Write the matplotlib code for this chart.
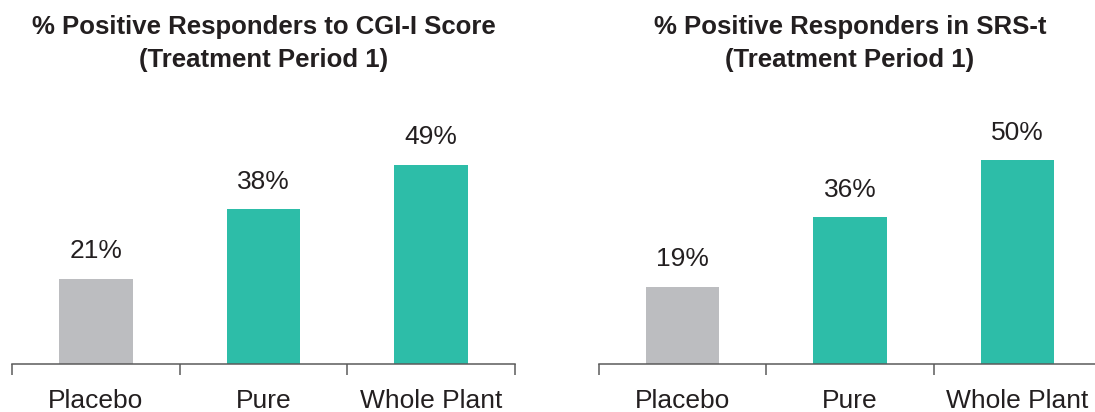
import numpy as np
import matplotlib; matplotlib.use("Agg"); import matplotlib.pyplot as plt
plt.rcParams['font.family'] = ['Liberation Sans', 'DejaVu Sans']

# ---- data ----
groups = ['Placebo', 'Pure', 'Whole Plant']
cgi_pct = [21, 38, 49]
srs_pct = [19, 36, 50]
titles = ['% Positive Responders to CGI-I Score\n(Treatment Period 1)',
          '% Positive Responders in SRS-t\n(Treatment Period 1)']
bar_colors = ['#bcbdc0', '#2dbda8', '#2dbda8']
TXT = '#231f20'; AX = '#5b5b5b'

W, H = 1095, 412
fig = plt.figure(figsize=(W/100, H/100), dpi=100)

# axes boxes in pixels: (left, right); baseline at y=364 from top
boxes = [(12, 515), (599, 1101)]
base_y, top_y = 364, 100
ppp = 4.07   # pixels per percent

for (x0, x1), vals, title in zip(boxes, [cgi_pct, srs_pct], titles):
    ax = fig.add_axes([x0/W, (H-base_y)/H, (x1-x0)/W, (base_y-top_y)/H])
    x = np.arange(len(groups))
    ax.bar(x, vals, width=0.44, color=bar_colors)
    ax.set_xlim(-0.5, len(groups)-0.5)
    ax.set_ylim(0, (base_y-top_y)/ppp)
    for xi, v in zip(x, vals):
        ax.annotate(f'{v}%', (xi, v), xytext=(0, 15), textcoords='offset points',
                    ha='center', va='baseline', fontsize=19, color=TXT)
    # boundary ticks (major, no label) + centered labels (minor)
    ax.set_xticks(np.arange(len(groups)+1) - 0.5)
    ax.set_xticklabels([])
    ax.set_xticks(x, minor=True)
    ax.set_xticklabels(groups, minor=True, fontsize=19, color=TXT)
    ax.tick_params(axis='x', which='major', length=8, width=1.1, color=AX, direction='out')
    ax.tick_params(axis='x', which='minor', length=0, pad=18)
    for s in ['top', 'right', 'left']:
        ax.spines[s].set_visible(False)
    ax.spines['bottom'].set_color(AX); ax.spines['bottom'].set_linewidth(1.1)
    ax.set_yticks([])
    # two title lines, baselines at 34 px and 67 px from the top
    for line, by in zip(title.split('\n'), [34, 67]):
        fig.text((x0+x1)/2/W, 1-by/H, line, ha='center', va='baseline', fontsize=18.5,
                 fontweight='bold', color=TXT)

fig.savefig('out.png', dpi=100)
